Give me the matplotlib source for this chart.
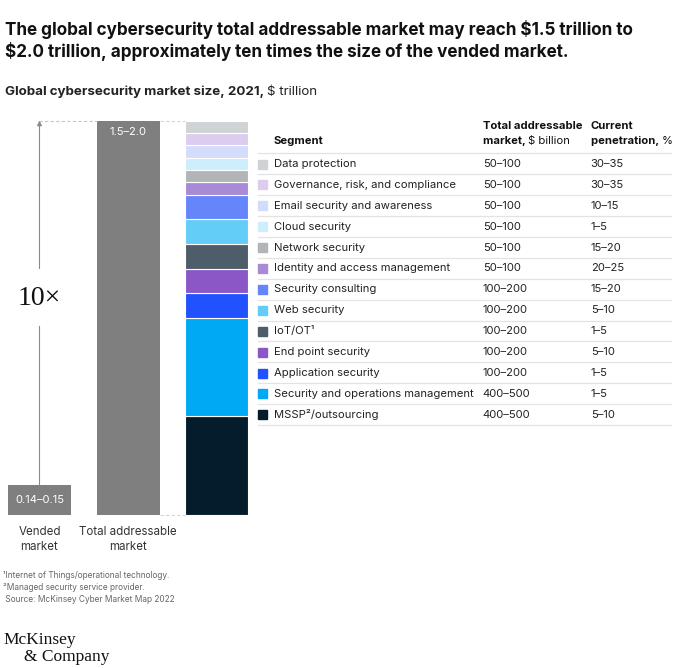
import numpy as np
import matplotlib
matplotlib.use("Agg")
import matplotlib.pyplot as plt
from matplotlib.patches import Rectangle

plt.rcParams['font.family'] = ['Inter', 'DejaVu Sans']

# data
bar_labels = ['Vended\nmarket', 'Total addressable\nmarket']
bar_low = [0.14, 1.5]
bar_high = [0.15, 2.0]
bar_text = ['0.14–0.15', '1.5–2.0']

segments = ['Data protection', 'Governance, risk, and compliance',
            'Email security and awareness', 'Cloud security', 'Network security',
            'Identity and access management', 'Security consulting', 'Web security',
            'IoT/OT¹', 'End point security', 'Application security',
            'Security and operations management', 'MSSP²/outsourcing']
tam_low = [50, 50, 50, 50, 50, 50, 100, 100, 100, 100, 100, 400, 400]
tam_high = [100, 100, 100, 100, 100, 100, 200, 200, 200, 200, 200, 500, 500]
pen_low = [30, 30, 10, 1, 15, 20, 15, 5, 1, 5, 1, 1, 5]
pen_high = [35, 35, 15, 5, 20, 25, 20, 10, 5, 10, 5, 5, 10]

seg_colors = ['#d0d3d5', '#dccdef', '#d4dcfc', '#cdeefc', '#b1b5b8', '#a98ad6',
              '#6586fa', '#63cdf7', '#4d5d69', '#8b57c6', '#2251ff', '#00a9f4', '#051c2c']

W, H = 680, 668
fig = plt.figure(figsize=(W / 100, H / 100), dpi=100)
renderer = fig.canvas.get_renderer()


def fx(x):
    return x / W


def fy(y):
    return 1 - y / H


def rich(x, y, parts, **kw):
    # parts: list of (text, weight), drawn one after another
    for txt, wt in parts:
        t = fig.text(fx(x), fy(y), txt, fontweight=wt, **kw)
        x += t.get_window_extent(renderer=renderer).width


def hline(y, x0=258, x1=671):
    fig.add_artist(plt.Line2D([fx(x0), fx(x1)], [fy(y), fy(y)], color='#e3e3e3', lw=0.9,
                              transform=fig.transFigure))


# title
fig.text(fx(5), fy(35), 'The global cybersecurity total addressable market may reach $1.5 trillion to',
         fontsize=12.3, fontweight='bold', color='#111111', va='baseline')
fig.text(fx(5), fy(57), '$2.0 trillion, approximately ten times the size of the vended market.',
         fontsize=12.3, fontweight='bold', color='#111111', va='baseline')
rich(5, 95, [('Global cybersecurity market size, 2021, ', 'bold'), ('$ trillion', 'normal')],
     fontsize=9.6, color='#222222', va='baseline')

# bars
ax = fig.add_axes([0, fy(520), fx(260), (520 - 110) / H])
ax.set_xlim(-0.445, 2.485)
ax.set_ylim(-0.0254, 2.054)
ax.axis('off')
bw = 0.71
ax.bar([0, 1], bar_high, width=bw, color='#7f7f7f')
ax.text(0, bar_high[0] / 2, bar_text[0], ha='center', va='center', color='white', fontsize=8)
ax.text(1, bar_high[1] - 0.06, bar_text[1], ha='center', va='center', color='white', fontsize=8)
for i, lab in enumerate(bar_labels):
    ax.text(i, -0.055, lab, ha='center', va='top', fontsize=8.3, color='#333333',
            linespacing=1.35)

# stacked segments, largest at bottom, scaled to the TAM bar height
scale = bar_high[1] / sum(tam_low)
bottom = 0
for lo, c in zip(tam_low[::-1], seg_colors[::-1]):
    ax.bar(2, lo * scale, bottom=bottom, width=bw, color=c, edgecolor='white', linewidth=0.8)
    bottom += lo * scale

# dashed guides
ax.plot([0, 1 - bw / 2], [bar_high[1]] * 2, ls=(0, (3, 2)), color='#c8c8c8', lw=0.8)
ax.plot([1 + bw / 2, 2 - bw / 2], [bar_high[1]] * 2, ls=(0, (3, 2)), color='#d5d5d5', lw=0.8)
ax.plot([1 + bw / 2, 2 - bw / 2], [0, 0], ls=(0, (3, 2)), color='#d5d5d5', lw=0.8)

# 10x arrow
ax.plot([0, 0], [bar_high[0], 0.96], color='#8a8a8a', lw=0.8)
ax.annotate('', xy=(0, bar_high[1]), xytext=(0, 1.25),
            arrowprops=dict(arrowstyle='-|>', color='#8a8a8a', lw=0.8,
                            mutation_scale=7, shrinkA=0, shrinkB=0))
ax.text(0, 1.1, '10×', ha='center', va='center', fontsize=20,
        family=['Liberation Serif', 'DejaVu Serif'], color='#111111')

# table
tfs = 8.1
x_seg, x_tam, x_pen = 274, 482.7, 590.7
rich(x_tam, 126, [('Total addressable', 'bold')], fontsize=tfs, va='center', color='#111111')
rich(x_tam, 140.7, [('market, ', 'bold'), ('$ billion', 'normal')], fontsize=tfs, va='center', color='#111111')
rich(x_pen, 126, [('Current', 'bold')], fontsize=tfs, va='center', color='#111111')
rich(x_pen, 140.7, [('penetration, ', 'bold'), ('%', 'normal')], fontsize=tfs, va='center', color='#111111')
rich(x_seg, 140.7, [('Segment', 'bold')], fontsize=tfs, va='center', color='#111111')

row0, dy = 164, 20.9
hline(153.3)
for i, seg in enumerate(segments):
    yc = row0 + dy * i
    fig.add_artist(Rectangle((fx(258), fy(yc + 4.5)), 9 / W, 9 / H,
                             transform=fig.transFigure, color=seg_colors[i]))
    fig.text(fx(x_seg), fy(yc), seg, fontsize=tfs, va='center', color='#222222')
    fig.text(fx(x_tam), fy(yc), f'{tam_low[i]}–{tam_high[i]}', fontsize=tfs, va='center', color='#222222')
    fig.text(fx(x_pen), fy(yc), f'{pen_low[i]}–{pen_high[i]}', fontsize=tfs, va='center', color='#222222')
    hline(153.3 + dy * (i + 1))

# footnotes
notes = ['¹Internet of Things/operational technology.',
         '²Managed security service provider.',
         ' Source: McKinsey Cyber Market Map 2022']
for i, n in enumerate(notes):
    fig.text(fx(3), fy(576 + 11.5 * i), n, fontsize=6, color='#666666', va='center')

# logo
serif = ['Liberation Serif', 'DejaVu Serif']
fig.text(fx(3), fy(644), 'McKinsey', fontsize=12.5, family=serif, color='#111111', va='baseline')
fig.text(fx(24), fy(661), '& Company', fontsize=12.5, family=serif, color='#111111', va='baseline')

fig.savefig('out.png', dpi=100)
